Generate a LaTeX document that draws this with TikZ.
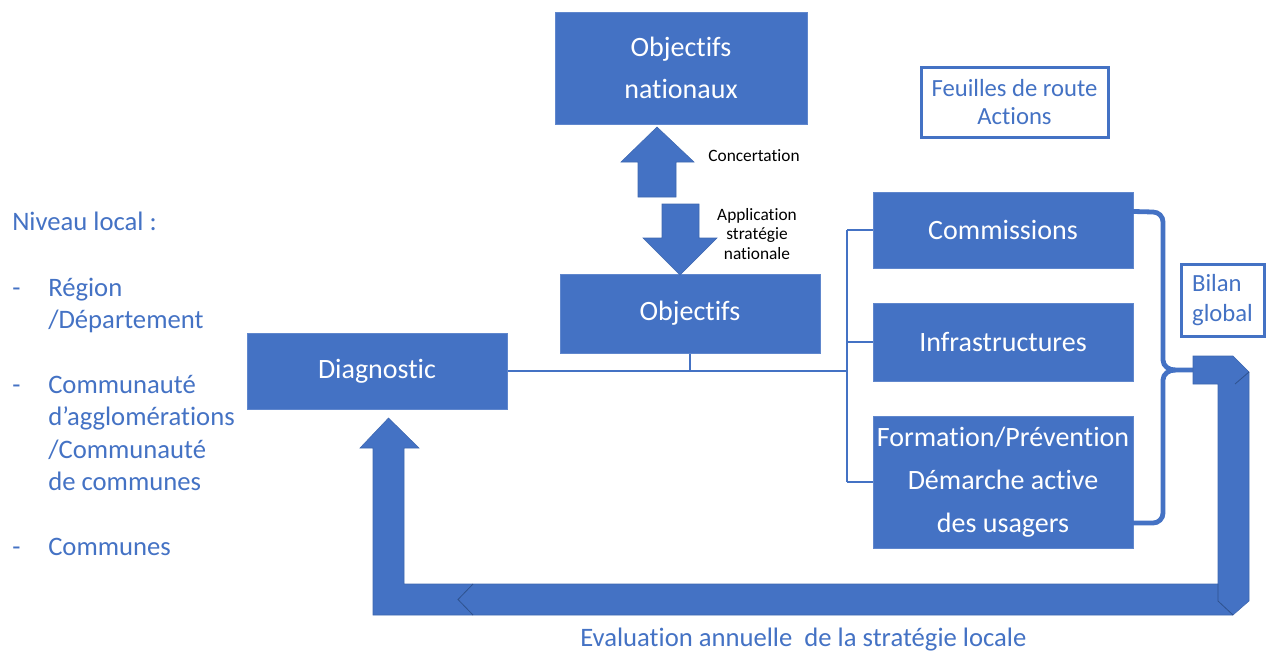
\documentclass[tikz,border=0pt]{standalone}
\usepackage{fontspec}
\setmainfont[Ligatures=NoCommon]{Carlito}
\usetikzlibrary{calc}
\newlength\pxu \setlength\pxu{0.75pt}
\definecolor{ofblue}{HTML}{4472C4}
\definecolor{ofdark}{HTML}{2F528F}
\begin{document}
\begin{tikzpicture}[x=0.75pt,y=-0.75pt,
  fbox/.style={fill=ofblue, draw=ofblue!85!white, line width=0.75pt, text=white,
    font=\fontsize{21}{31.5}\selectfont, align=center, inner sep=0pt},
  obox/.style={draw=ofblue, line width=2.25pt, text=ofblue, fill=white,
    font=\fontsize{18.5}{21.5}\selectfont, inner sep=0pt},
  conn/.style={draw=ofblue, line width=1.1pt},
  blockarrow/.style={fill=ofblue, draw=ofblue!90!black, line width=0.4pt},
  seam/.style={draw=ofdark, line width=0.6pt},
  lbl/.style={font=\fontsize{13}{14.8}\selectfont, align=center, text=black, inner sep=0pt},
  side/.style={font=\fontsize{20}{24}\selectfont, text=ofblue, anchor=base west, inner sep=0pt},
  bracel/.style={draw=ofblue, line width=3.6pt}
]
\useasboundingbox (0,0) rectangle (1271,653);

% boxes
\node[fbox, minimum width=252\pxu, minimum height=112\pxu] (natl) at (681,68) {Objectifs\\nationaux};
\node[fbox, minimum width=260\pxu, minimum height=79\pxu] (obj) at (690,313.5) {Objectifs};
\node[fbox, minimum width=260\pxu, minimum height=76\pxu] (diag) at (377,371) {Diagnostic};
\node[fbox, minimum width=260\pxu, minimum height=76\pxu] (comm) at (1003,230) {Commissions};
\node[fbox, minimum width=260\pxu, minimum height=78\pxu] (infra) at (1003,342) {Infrastructures};
\node[fbox, minimum width=260\pxu, minimum height=132\pxu, font=\fontsize{21}{32.2}\selectfont] (form) at (1003,482) {Formation/Prévention\\Démarche active\\des usagers};
\node[obox, minimum width=187\pxu, minimum height=70\pxu, align=center] (feuil) at (1014.5,102) {Feuilles de route\\Actions};
\node[obox, minimum width=83\pxu, minimum height=72\pxu, align=left, font=\fontsize{18.5}{23}\selectfont] (bilan) at (1222.5,300) {Bilan\\global};

% connectors
\coordinate (bus) at (847,371);
\draw[conn] (diag.east) -- (bus);
\draw[conn] (obj.south) -- (obj.south |- bus);
\draw[conn] (comm.west -| bus) -- (form.west -| bus);
\draw[conn] (comm.west -| bus) -- (comm.west);
\draw[conn] (infra.west -| bus) -- (infra.west);
\draw[conn] (form.west -| bus) -- (form.west);

% up / down block arrows
\draw[blockarrow] (638,197) -- (638,162) -- (621,162) -- (657,127) -- (694,162) -- (676,162) -- (676,197) -- cycle;
\draw[blockarrow] (662,204) -- (699,204) -- (699,238) -- (717,238) -- (680,275) -- (643,238) -- (662,238) -- cycle;
\node[lbl] (conc) at (754,156) {Concertation};
\node[lbl] (appl) at (757,234) {Application\\stratégie\\nationale};

% brace
\coordinate (btail) at (1193,370);
\draw[bracel, line cap=round] ($(comm.north east)+(0,20)$) -- (1153,212) to[out=0,in=90] (1163,222) -- (1163,360) to[out=-90,in=180] (1175,370) -- (btail);
\draw[bracel, line cap=round] (1175,370) to[out=180,in=90] (1163,380) -- (1163,513) to[out=-90,in=0] (1153,523) -- (1133,523);

% big return arrow
\draw[blockarrow] (1193,356) -- (1233,356) -- (1249,372) -- (1249,601) -- (1233,615) -- (373,615)
  -- (373,448) -- (360,448) -- (388.5,418) -- (419,448) -- (404,448) -- (404,584) -- (1218,584)
  -- (1218,384) -- (1193,384) -- cycle;
\draw[seam] (1249,372) -- (1235,384);
\draw[seam] (1218,584) -- (1218,601) -- (1233,615);
\draw[seam] (473,584) -- (458,599.5) -- (473,615);

% left text
\node[side] (niv) at (12,230) {Niveau local :};
\node[side] (d1) at (12,296) {-};
\node[side] (r1) at (48,296) {Région};
\node[side] (r2) at (48,328) {/Département};
\node[side] (d2) at (12,393) {-};
\node[side] (c1) at (48,393) {Communauté};
\node[side] (c2) at (48,425.5) {d’agglomérations};
\node[side] (c3) at (48,458) {/Communauté};
\node[side] (c4) at (48,490) {de communes};
\node[side] (d3) at (12,555) {-};
\node[side] (c5) at (48,555) {Communes};

% bottom text
\node[side] (eval) at (580,646) {Evaluation annuelle\ \ de la stratégie locale};
\end{tikzpicture}
\end{document}
